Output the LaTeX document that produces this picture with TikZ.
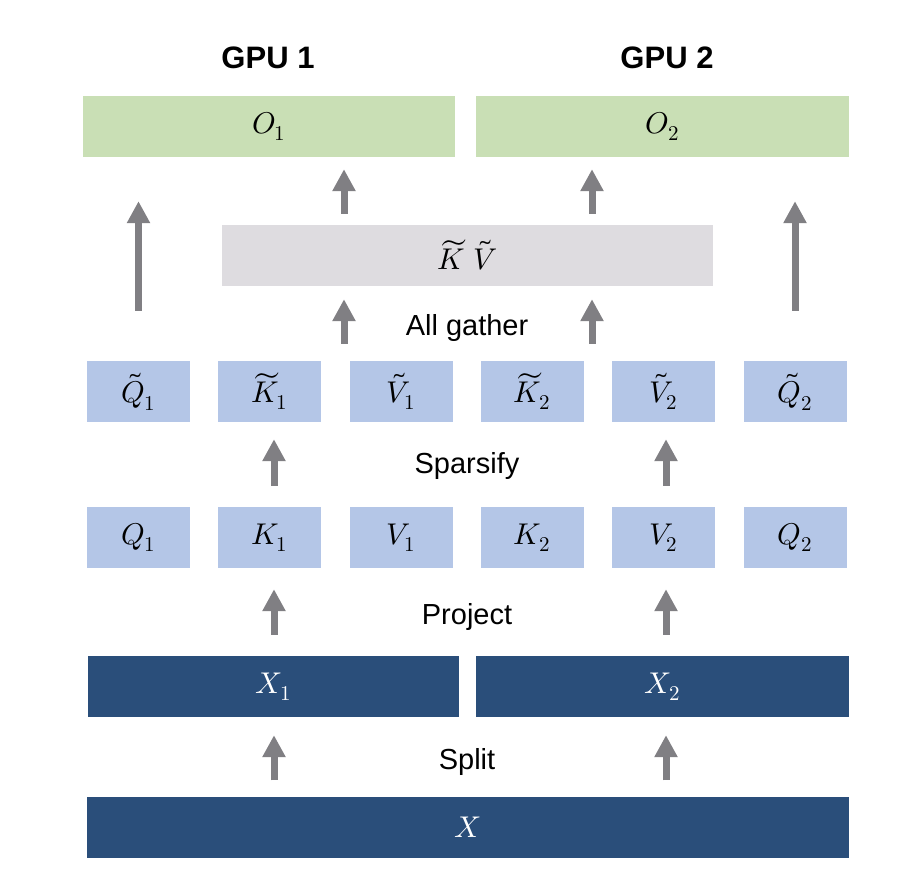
\documentclass[tikz,border=0pt]{standalone}
\usepackage{fontspec}
\usepackage{unicode-math}
\setmainfont{Liberation Sans}
\setmathfont{Latin Modern Math}
\usetikzlibrary{arrows.meta, positioning}
\definecolor{outgreen}{HTML}{C9DFB5}
\definecolor{kvgray}{HTML}{DEDCE0}
\definecolor{qkvblue}{HTML}{B4C6E7}
\definecolor{xblue}{HTML}{2A4E7A}
\definecolor{arrowgray}{HTML}{807F83}

\begin{document}
\begin{tikzpicture}[x=1pt, y=-1pt,
        box/.style={minimum height=61pt, inner sep=0pt, font=\fontsize{30}{34}\selectfont},
        outbox/.style={box, fill=outgreen, minimum width=372pt},
        small/.style={box, fill=qkvblue, minimum width=103pt},
        inbox/.style={box, fill=xblue, text=white},
        lbl/.style={anchor=base, font=\fontsize{29}{34}\selectfont},
        gpu/.style={anchor=base, font=\fontsize{31}{36}\selectfont\bfseries},
        up/.style={draw=arrowgray, line width=7pt, -{Triangle[width=22pt,length=22pt]}}]
            \useasboundingbox (0,0) rectangle (920,882);
            \node[gpu] (gpu1) at (268,69) {GPU 1};
            \node[gpu] (gpu2) at (667,69) {GPU 2};
            \node[outbox] (o1) at (269,126.5) {$O_1$};
            \node[outbox, minimum width=373pt] (o2) at (662.5,126.5) {$O_2$};
            \node[box, fill=kvgray, minimum width=491pt] (kv) at (467.5,255.5) {$\widetilde{K}\;\tilde{V}$};
            \node[small] (tq1) at (138.5,391.5) {$\tilde{Q}_1$};
            \node[small] (tk1) at (269.5,391.5) {$\widetilde{K}_1$};
            \node[small] (tv1) at (401,391.5) {$\tilde{V}_1$};
            \node[small] (tk2) at (532,391.5) {$\widetilde{K}_2$};
            \node[small] (tv2) at (663.5,391.5) {$\tilde{V}_2$};
            \node[small] (tq2) at (795,391.5) {$\tilde{Q}_2$};
            \node[small] (q1) at (138.5,537.5) {$Q_1$};
            \node[small] (k1) at (269.5,537.5) {$K_1$};
            \node[small] (v1) at (401,537.5) {$V_1$};
            \node[small] (k2) at (532,537.5) {$K_2$};
            \node[small] (v2) at (663.5,537.5) {$V_2$};
            \node[small] (q2) at (795,537.5) {$Q_2$};
            \node[inbox, minimum width=371pt] (x1) at (273.5,686.5) {$X_1$};
            \node[inbox, minimum width=373pt] (x2) at (662.5,686.5) {$X_2$};
            \node[inbox, minimum width=762pt] (x) at (468,827) {$X$};
            \node[lbl] (gather) at (467,335) {All gather};
            \node[lbl] (sparsify) at (467,473) {Sparsify};
            \node[lbl] (project) at (467,624) {Project};
            \node[lbl] (split) at (467,769) {Split};
            \coordinate (c1) at (274,0);
            \coordinate (c2) at (666,0);
            \coordinate (g1) at (344,0);
            \coordinate (g2) at (592,0);
            \foreach \c/\top in {c1/x1, c2/x2}
                \draw[up, shorten <=16pt, shorten >=18pt] (\c |- x.north) -- (\c |- \top.south);
            \foreach \c in {c1, c2}{
                \draw[up, shorten <=21pt, shorten >=21pt] (\c |- x1.north) -- (\c |- k1.south);
                \draw[up, shorten <=21pt, shorten >=17pt] (\c |- k1.north) -- (\c |- tk1.south);
            }
            \foreach \g in {g1, g2}{
                \draw[up, shorten <=17pt, shorten >=13pt] (\g |- tv1.north) -- (\g |- kv.south);
                \draw[up, shorten <=11pt, shorten >=12pt] (\g |- kv.north) -- (\g |- o1.south);
            }
            \draw[up, shorten <=50pt, shorten >=44pt] (tq1.north) -- (tq1 |- o1.south);
            \draw[up, shorten <=50pt, shorten >=44pt] (tq2.north) -- (tq2 |- o2.south);
\end{tikzpicture}
\end{document}
